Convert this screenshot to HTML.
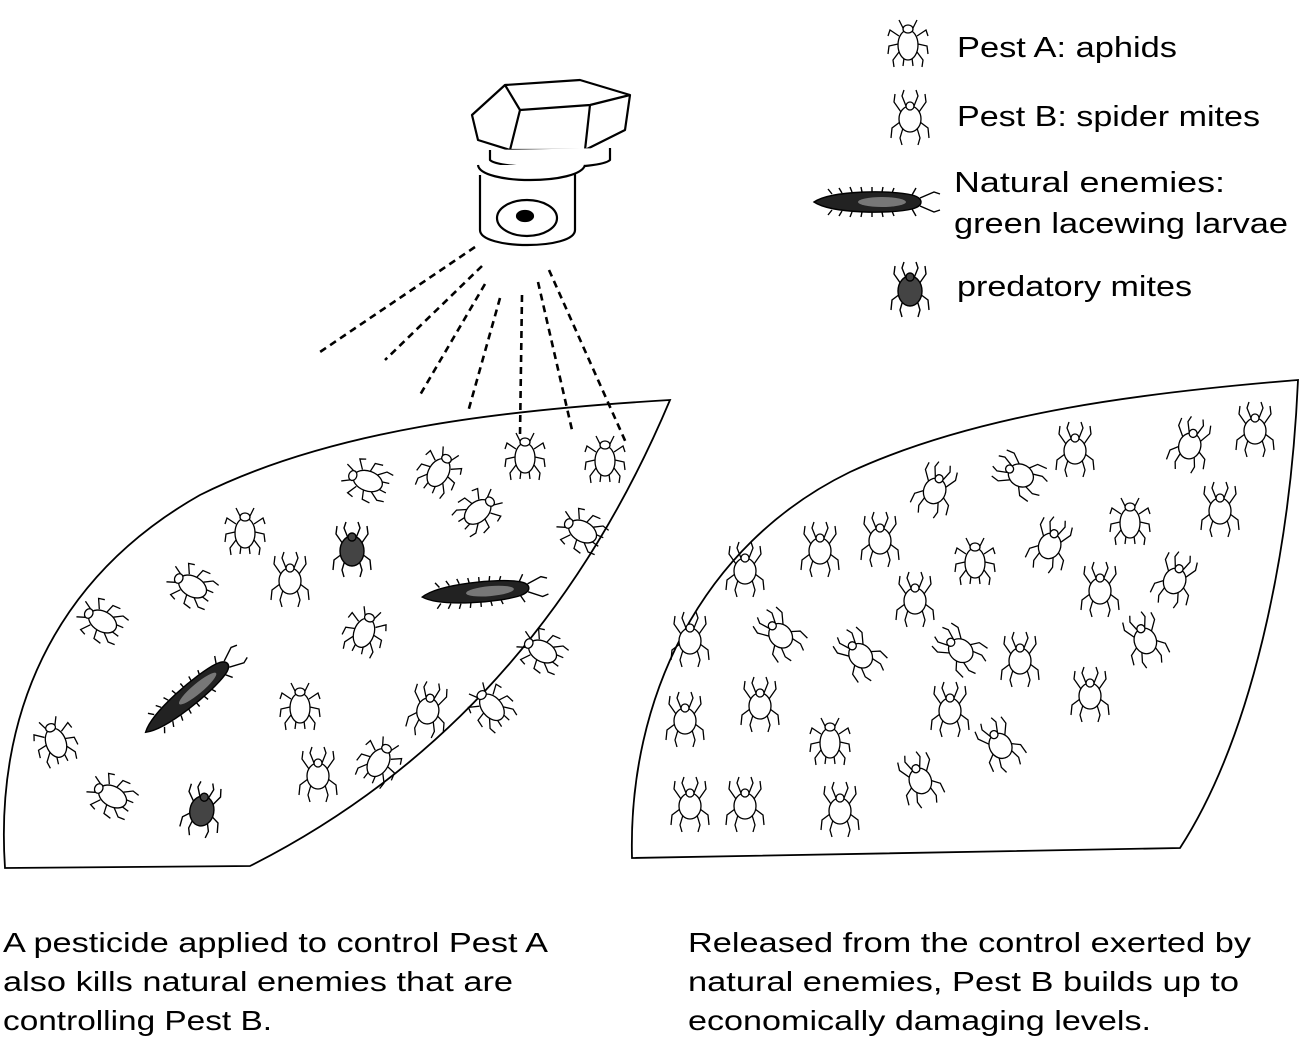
<!DOCTYPE html>
<html><head><meta charset="utf-8"><style>
html,body{margin:0;padding:0;background:#fff;}
svg{display:block}
text{font-family:"Liberation Sans",Arial,sans-serif;fill:#000}
</style></head><body>
<svg width="1300" height="1043" viewBox="0 0 1300 1043" xmlns="http://www.w3.org/2000/svg">
<defs>
 <g id="aphid" fill="#fff" stroke="#000" stroke-width="1.3">
  <path d="M-5,-14 L-9,-22 M5,-14 L9,-22 M-9,-6 L-18,-12 L-20,-6 M9,-6 L18,-12 L20,-6 M-10,2 L-19,4 L-20,12 M10,2 L19,4 L20,12 M-9,10 L-15,18 L-14,25 M9,10 L15,18 L14,25 M-4,16 L-5,24 M4,16 L5,24" fill="none"/>
  <ellipse cx="0" cy="3" rx="10" ry="15"/>
  <ellipse cx="0" cy="-13" rx="5" ry="4"/>
 </g>
 <g id="mite" fill="#fff" stroke="#000" stroke-width="1.3">
  <path d="M-4,-12 L-8,-22 L-6,-28 M4,-12 L8,-22 L6,-28 M-9,-6 L-16,-16 L-15,-24 M9,-6 L16,-16 L15,-24 M-10,4 L-18,10 L-19,20 M10,4 L18,10 L19,20 M-7,10 L-10,20 L-8,27 M7,10 L10,20 L8,27" fill="none"/>
  <ellipse cx="0" cy="1" rx="11" ry="13"/>
  <circle cx="0" cy="-12" r="4"/>
 </g>
 <g id="pmite" fill="#444" stroke="#000" stroke-width="1.4">
  <path d="M-4,-12 L-8,-22 L-6,-28 M4,-12 L8,-22 L6,-28 M-9,-6 L-16,-16 L-15,-24 M9,-6 L16,-16 L15,-24 M-10,4 L-18,10 L-19,20 M10,4 L18,10 L19,20 M-7,10 L-10,20 L-8,27 M7,10 L10,20 L8,27" fill="none"/>
  <ellipse cx="0" cy="1" rx="12" ry="15"/>
  <circle cx="0" cy="-13" r="4"/>
 </g>
 <g id="lace" stroke="#000" stroke-width="1.4">
  <path d="M-40,-8 L-44,-13 M-30,-9 L-33,-14 M-20,-10 L-22,-15 M-10,-10 L-11,-15 M0,-10 L0,-15 M10,-10 L11,-15 M20,-9 L22,-14 M-40,8 L-44,13 M-30,9 L-33,14 M-20,10 L-22,15 M-10,10 L-11,15 M0,10 L0,15 M10,10 L11,15 M20,9 L22,14 M48,-4 L62,-10 L68,-8 M48,4 L62,10 L68,8 M40,-7 L44,-14 M40,7 L44,14" fill="none"/>
  <path d="M-58,0 C-40,-12 20,-12 40,-7 C52,-4 52,4 40,7 C20,12 -40,12 -58,0 Z" fill="#222"/>
  <ellipse cx="10" cy="0" rx="24" ry="5" fill="#777" stroke="none"/>
 </g>
</defs>

<!-- leaves -->
<path d="M5,868 C-5,720 50,580 200,495 C330,430 500,410 670,400 C590,590 460,760 250,866 Z" fill="none" stroke="#000" stroke-width="1.8"/>
<path d="M632,858 C628,700 700,545 850,472 C980,412 1150,392 1298,380 C1290,560 1250,740 1180,848 L632,858 Z" fill="none" stroke="#000" stroke-width="1.8"/>

<!-- nozzle -->
<g stroke="#000" stroke-width="2.2" fill="#fff" stroke-linejoin="round">
 <polygon points="472,115 505,85 580,80 630,95 625,130 585,150 510,150 478,140"/>
 <path d="M505,85 L520,110 L590,105 L630,95 M520,110 L510,150 M590,105 L585,150" fill="none"/>
 <path d="M490,150 L490,160 C500,170 600,170 610,160 L610,148" />
 <path d="M480,175 L480,230 C480,250 575,250 575,230 L575,170"/>
 <path d="M478,165 C480,185 580,185 585,165" />
 <ellipse cx="527" cy="218" rx="30" ry="18"/>
 <ellipse cx="525" cy="216" rx="8" ry="5" fill="#000"/>
</g>
<!-- spray -->
<g stroke="#000" stroke-width="2.6" stroke-dasharray="7,5" fill="none">
 <path d="M475,247 L320,352"/>
 <path d="M482,266 L385,360"/>
 <path d="M485,284 L420,395"/>
 <path d="M500,298 L468,412"/>
 <path d="M522,295 L520,435"/>
 <path d="M538,282 L572,430"/>
 <path d="M549,270 L627,445"/>
</g>

<!-- left leaf bugs -->
<use href="#aphid" transform="translate(365,480) rotate(-70)"/>
<use href="#aphid" transform="translate(440,470) rotate(30)"/>
<use href="#aphid" transform="translate(525,455)"/>
<use href="#aphid" transform="translate(605,458)"/>
<use href="#aphid" transform="translate(245,530)"/>
<use href="#aphid" transform="translate(480,510) rotate(50)"/>
<use href="#aphid" transform="translate(580,530) rotate(-60)"/>
<use href="#aphid" transform="translate(100,620) rotate(-60)"/>
<use href="#aphid" transform="translate(190,585) rotate(-60)"/>
<use href="#aphid" transform="translate(365,630) rotate(20)"/>
<use href="#aphid" transform="translate(540,650) rotate(-60)"/>
<use href="#aphid" transform="translate(300,705)"/>
<use href="#aphid" transform="translate(490,705) rotate(-40)"/>
<use href="#aphid" transform="translate(55,740) rotate(-20)"/>
<use href="#aphid" transform="translate(380,760) rotate(30)"/>
<use href="#aphid" transform="translate(110,795) rotate(-60)"/>
<use href="#mite" transform="translate(290,580)"/>
<use href="#mite" transform="translate(428,710) rotate(10)"/>
<use href="#mite" transform="translate(318,775)"/>
<use href="#pmite" transform="translate(352,550)"/>
<use href="#pmite" transform="translate(202,810) rotate(10)"/>
<use href="#lace" transform="translate(480,592) rotate(-5)"/>
<use href="#lace" transform="translate(190,695) rotate(-40)"/>

<!-- right leaf bugs -->
<g>
<use href="#mite" transform="translate(1075,450)"/>
<use href="#mite" transform="translate(1190,445) rotate(15)"/>
<use href="#mite" transform="translate(1255,430)"/>
<use href="#mite" transform="translate(1020,475) rotate(-60)"/>
<use href="#mite" transform="translate(935,490) rotate(20)"/>
<use href="#mite" transform="translate(1220,510)"/>
<use href="#mite" transform="translate(880,540)"/>
<use href="#mite" transform="translate(820,550)"/>
<use href="#mite" transform="translate(745,570)"/>
<use href="#mite" transform="translate(1050,545) rotate(20)"/>
<use href="#mite" transform="translate(915,600)"/>
<use href="#mite" transform="translate(1175,580) rotate(20)"/>
<use href="#mite" transform="translate(1100,590)"/>
<use href="#mite" transform="translate(690,640)"/>
<use href="#mite" transform="translate(780,635) rotate(-40)"/>
<use href="#mite" transform="translate(860,655) rotate(-40)"/>
<use href="#mite" transform="translate(960,650) rotate(-50)"/>
<use href="#mite" transform="translate(1020,660)"/>
<use href="#mite" transform="translate(1145,640) rotate(-20)"/>
<use href="#mite" transform="translate(1090,695)"/>
<use href="#mite" transform="translate(760,705)"/>
<use href="#mite" transform="translate(685,720)"/>
<use href="#mite" transform="translate(950,710)"/>
<use href="#mite" transform="translate(1000,745) rotate(-30)"/>
<use href="#mite" transform="translate(920,780) rotate(-20)"/>
<use href="#mite" transform="translate(745,805)"/>
<use href="#mite" transform="translate(690,805)"/>
<use href="#mite" transform="translate(840,810)"/>
<use href="#aphid" transform="translate(1130,520)"/>
<use href="#aphid" transform="translate(975,560)"/>
<use href="#aphid" transform="translate(830,740)"/>
</g>

<!-- legend -->
<use href="#aphid" transform="translate(908,42)"/>
<use href="#mite" transform="translate(910,118)"/>
<use href="#lace" transform="translate(872,202)"/>
<use href="#pmite" transform="translate(910,290)"/>
<text x="957" y="57" font-size="29" textLength="220" lengthAdjust="spacingAndGlyphs">Pest A: aphids</text>
<text x="957" y="126" font-size="29" textLength="303" lengthAdjust="spacingAndGlyphs">Pest B: spider mites</text>
<text x="954" y="192" font-size="29" textLength="271" lengthAdjust="spacingAndGlyphs">Natural enemies:</text>
<text x="954" y="233" font-size="29" textLength="334" lengthAdjust="spacingAndGlyphs">green lacewing larvae</text>
<text x="957" y="296" font-size="29" textLength="235" lengthAdjust="spacingAndGlyphs">predatory mites</text>

<!-- captions -->
<text x="3" y="952" font-size="28" textLength="545" lengthAdjust="spacingAndGlyphs">A pesticide applied to control Pest A</text>
<text x="3" y="991" font-size="28" textLength="510" lengthAdjust="spacingAndGlyphs">also kills natural enemies that are</text>
<text x="3" y="1030" font-size="28" textLength="269" lengthAdjust="spacingAndGlyphs">controlling Pest B.</text>
<text x="688" y="952" font-size="28" textLength="563" lengthAdjust="spacingAndGlyphs">Released from the control exerted by</text>
<text x="688" y="991" font-size="28" textLength="551" lengthAdjust="spacingAndGlyphs">natural enemies, Pest B builds up to</text>
<text x="688" y="1030" font-size="28" textLength="463" lengthAdjust="spacingAndGlyphs">economically damaging levels.</text>
</svg>
</body></html>
